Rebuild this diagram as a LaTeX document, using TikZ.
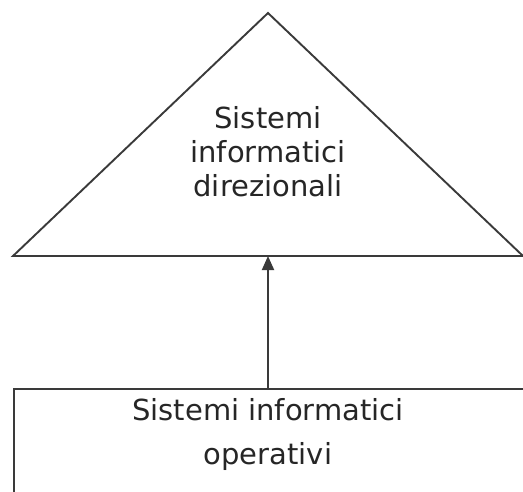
\documentclass[tikz,border=0pt]{standalone}
\usepackage{fontspec}
\setmainfont{DejaVu Sans}
\usetikzlibrary{arrows.meta}
\usetikzlibrary{positioning}
\definecolor{linegray}{HTML}{3A3A3A}
\tikzset{edge/.style = {draw=linegray, line width=1.9pt}}
\tikzset{label/.style = {font=\fontsize{29}{34}\selectfont, text=black!85, align=center}}

\begin{document}
\begin{tikzpicture}[x=1pt, y=-1pt]
      \useasboundingbox (0, 0) rectangle (523, 491);
      \clip (0, 0) rectangle (523, 491);

      % piramide direzionale
      \coordinate (apex) at (268, 13);
      \coordinate (baseleft) at (13, 256);
      \coordinate (baseright) at (523, 256);
      \coordinate (basemid) at (268, 256);
      \draw [edge] (baseleft) -- (apex) -- (baseright) -- cycle;
      \node [label] (direzionali) at (268, 152) {Sistemi\\informatici\\direzionali};

      % livello operativo
      \coordinate (opleft) at (14, 389);
      \coordinate (opright) at (560, 540);
      \coordinate (optop) at (268, 389);
      \draw [edge] (opleft) rectangle (opright);
      \node [label, font=\fontsize{29}{44}\selectfont] (operativi) at (268, 434)
            {Sistemi informatici\\operativi};

      \draw [edge, -{Triangle[length=14pt, width=12pt]}] (optop) -- (basemid);
\end{tikzpicture}
\end{document}
